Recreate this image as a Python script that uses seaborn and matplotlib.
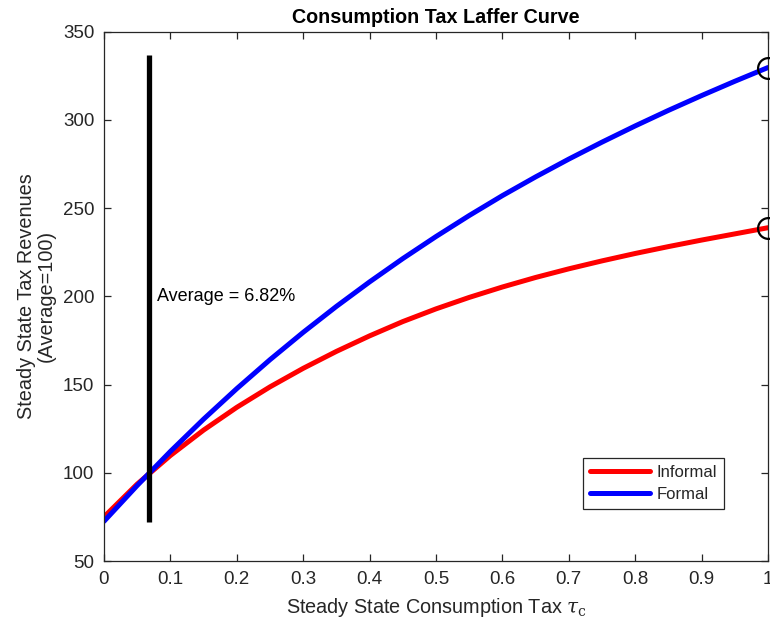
import numpy as np
import pandas as pd
import matplotlib
matplotlib.use("Agg")
import matplotlib.pyplot as plt
import seaborn as sns

# ---- data ----
tau_c = [0.0, 0.05, 0.10, 0.15, 0.20, 0.25, 0.30, 0.35, 0.40, 0.45, 0.50,
         0.55, 0.60, 0.65, 0.70, 0.75, 0.80, 0.85, 0.90, 0.95, 1.00]
informal = [75.0, 93.6, 109.8, 124.2, 137.1, 148.7, 159.2, 168.8, 177.6, 185.7, 192.9,
            199.4, 205.3, 210.7, 215.6, 220.1, 224.3, 228.2, 231.9, 235.4, 238.9]
formal = [72.5, 92.8, 112.1, 130.4, 147.7, 164.1, 179.6, 194.3, 208.2, 221.4, 233.9,
          245.8, 257.1, 267.7, 277.8, 287.4, 296.6, 305.4, 313.8, 321.9, 329.7]
avg_tau = 0.0682
vline_range = [72.0, 337.0]
avg_label = "Average = 6.82%"
xticks = [0, 0.1, 0.2, 0.3, 0.4, 0.5, 0.6, 0.7, 0.8, 0.9, 1]
xticklabels = ["0", "0.1", "0.2", "0.3", "0.4", "0.5", "0.6", "0.7", "0.8", "0.9", "1"]
yticks = [50, 100, 150, 200, 250, 300, 350]

df = pd.DataFrame({"tau": tau_c, "Informal": informal, "Formal": formal})

sns.set_theme(style="white")
plt.rcParams["font.family"] = ["Liberation Sans", "DejaVu Sans"]
plt.rcParams["mathtext.fontset"] = "dejavuserif"

fig = plt.figure(figsize=(7.70, 6.29), dpi=100)
ax = fig.add_axes([104 / 770, 68 / 629, 664 / 770, 529.3 / 629])

axcol = "#262626"
sns.lineplot(data=df, x="tau", y="Informal", ax=ax, color="#ff0000", lw=3.6,
             label="Informal", sort=False)
sns.lineplot(data=df, x="tau", y="Formal", ax=ax, color="#0000ff", lw=3.6,
             label="Formal", sort=False)

ax.plot([avg_tau, avg_tau], vline_range, color="black", lw=3.8, solid_capstyle="butt")
ax.text(avg_tau + 0.012, 200, avg_label, fontsize=13, va="center", ha="left", color="black")

# end-point circles
ax.plot([tau_c[-1]], [formal[-1]], marker="o", ms=15, mfc="none", mec="black", mew=1.6,
        clip_on=False, zorder=5)
ax.plot([tau_c[-1]], [informal[-1]], marker="o", ms=15, mfc="none", mec="black", mew=1.6,
        clip_on=False, zorder=5)

ax.set_xlim(0, 1)
ax.set_ylim(50, 350)
ax.set_xticks(xticks)
ax.set_xticklabels(xticklabels)
ax.set_yticks(yticks)

for s in ax.spines.values():
    s.set_visible(True)
    s.set_color(axcol)
    s.set_linewidth(0.9)
ax.tick_params(direction="in", length=5, width=0.9, color=axcol, labelcolor=axcol,
               labelsize=13.5, top=True, right=True, bottom=True, left=True, pad=7)

ax.set_xlabel(r"Steady State Consumption Tax $\tau_{\rm c}$", fontsize=14.3, color=axcol, labelpad=6)
ax.set_ylabel("Steady State Tax Revenues\n(Average=100)", fontsize=14.3, color=axcol,
              labelpad=5, linespacing=1.05)
ax.set_title("Consumption Tax Laffer Curve", fontsize=14.2, fontweight="bold", color="black", pad=6)

leg = ax.legend(loc="upper left", bbox_to_anchor=(583 / 770, 1 - 458 / 629),
                bbox_transform=fig.transFigure, fontsize=12, frameon=True,
                fancybox=False, edgecolor=axcol, framealpha=1, handlelength=3.6,
                borderpad=0.4, labelspacing=0.45, handletextpad=0.4, borderaxespad=0)
leg.get_frame().set_linewidth(0.9)
for line in leg.get_lines():
    line.set_linewidth(3.6)

fig.savefig("out.png", dpi=100)
